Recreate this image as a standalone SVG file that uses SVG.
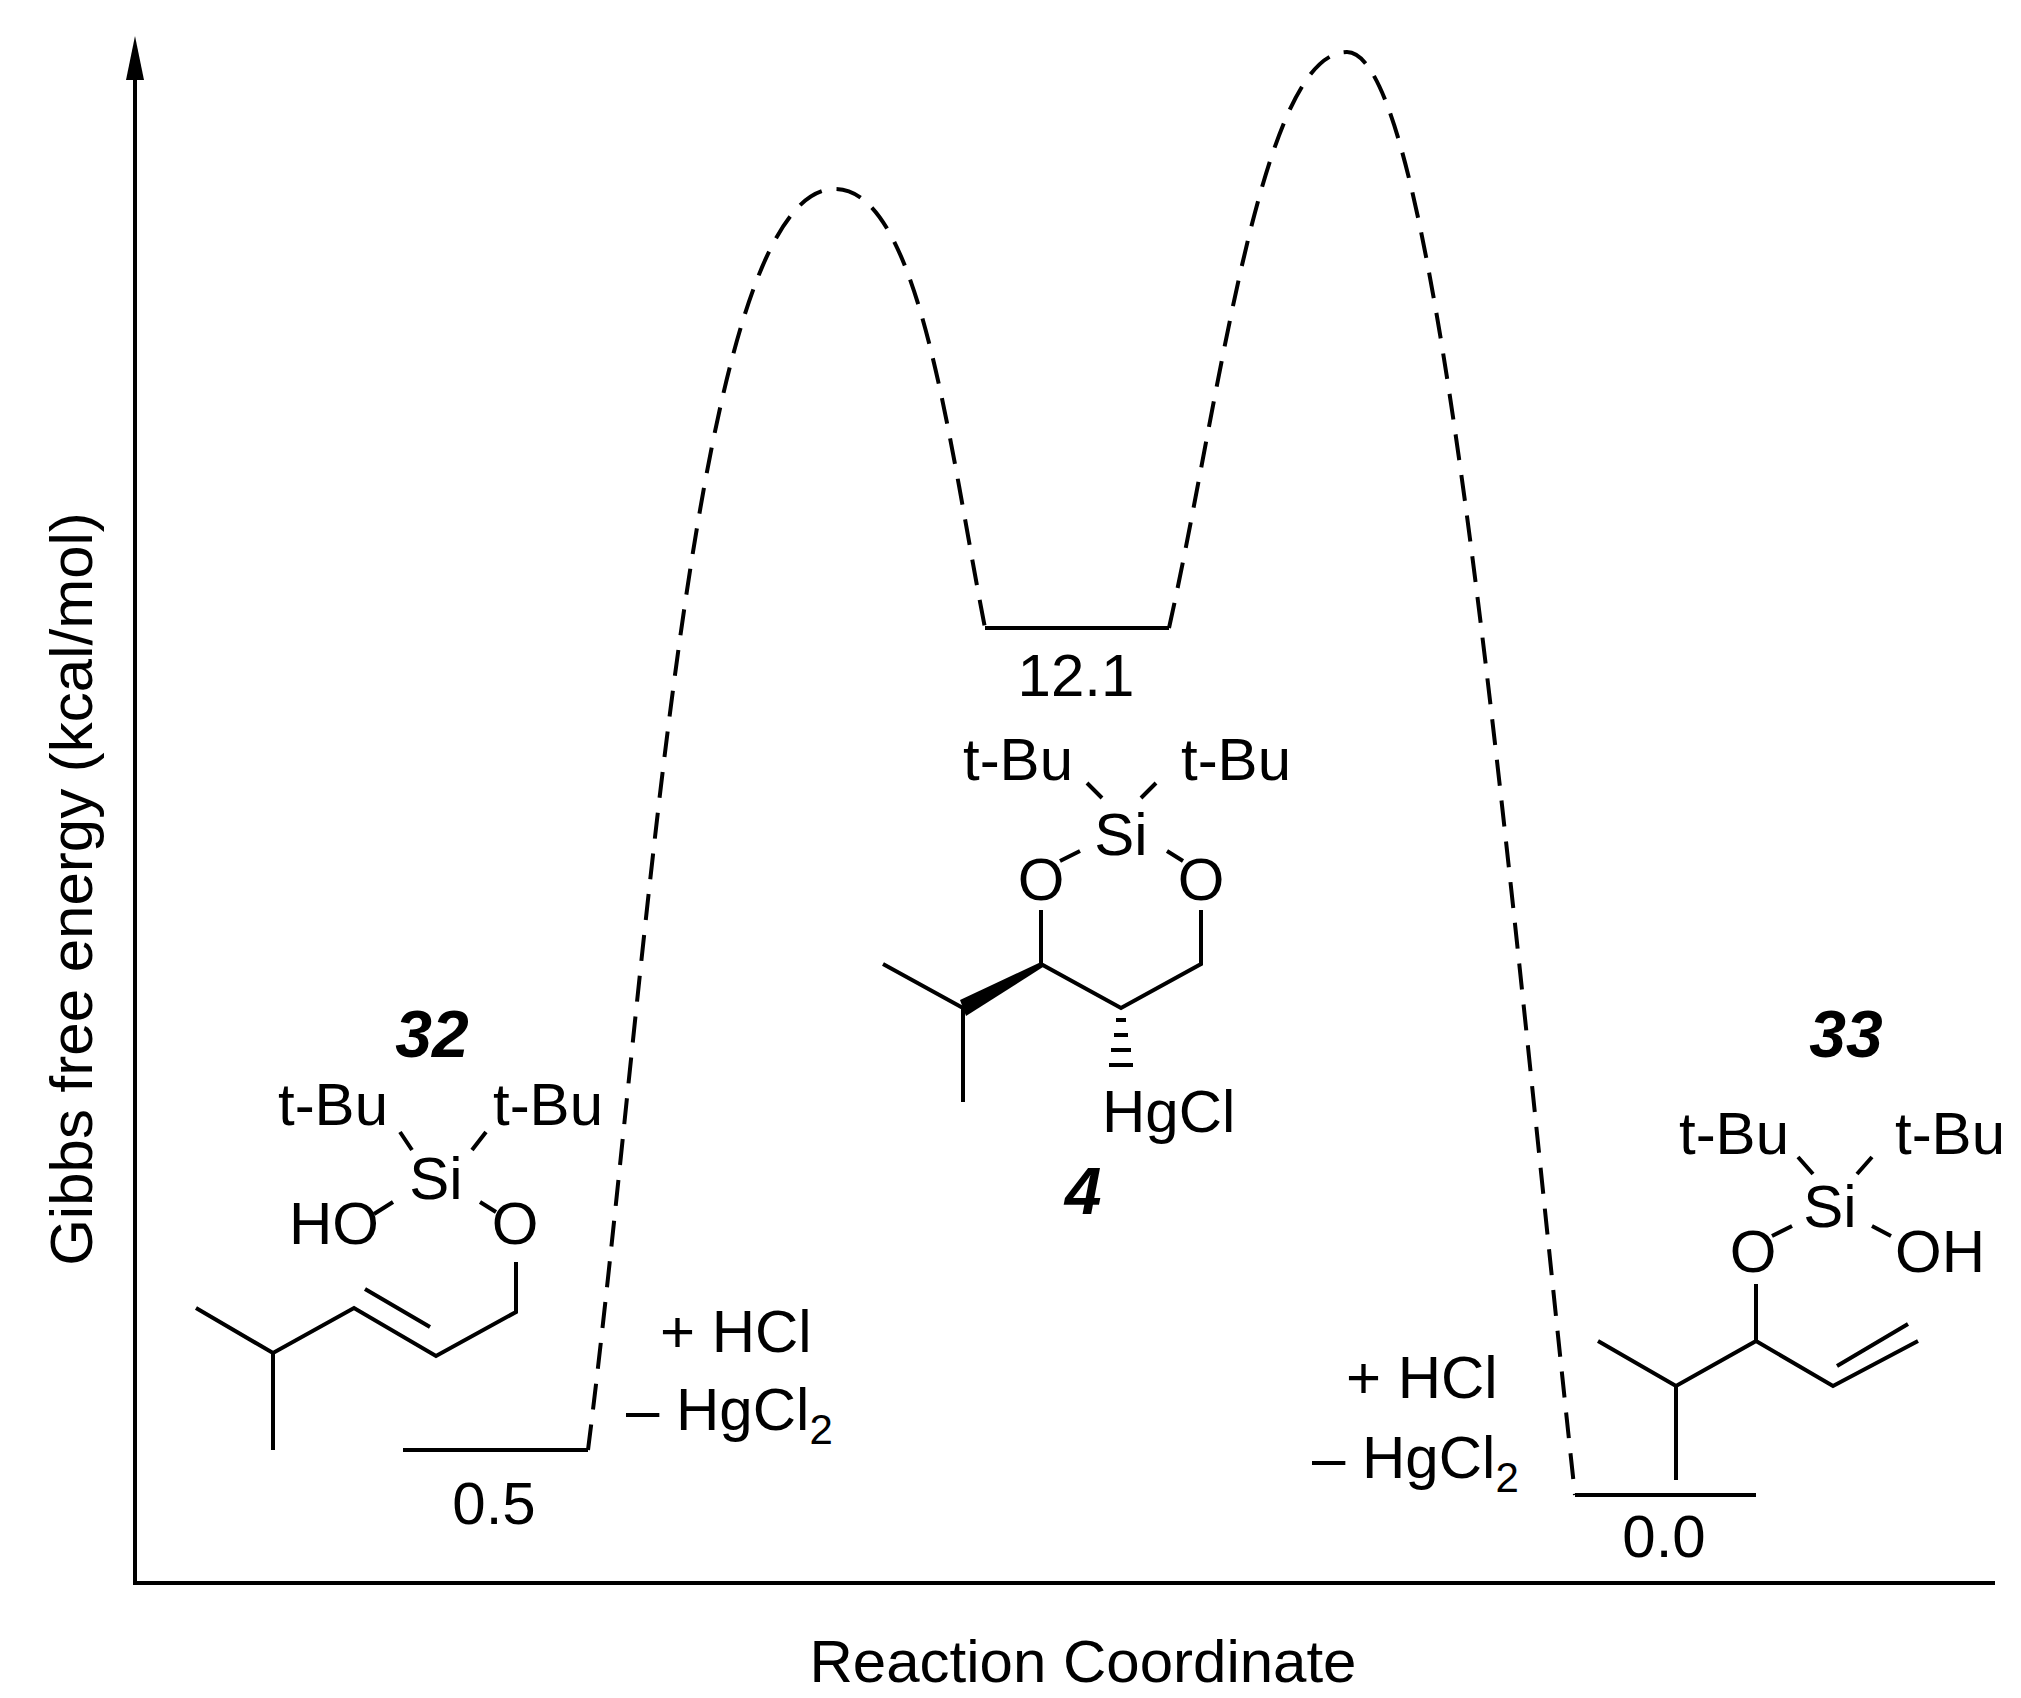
<svg xmlns="http://www.w3.org/2000/svg" width="2021" height="1698" viewBox="0 0 2021 1698">
<style>
text{font-family:"Liberation Sans",Arial,sans-serif;font-size:60px;fill:#000}
.c{text-anchor:middle}
.b{font-weight:bold;font-style:italic;font-size:66px}
.l{stroke:#000;stroke-width:4;fill:none;stroke-linecap:butt}
.d{stroke:#000;stroke-width:4;fill:none;stroke-dasharray:26 15}
</style>
<rect width="2021" height="1698" fill="#fff"/>
<g id="axes">
<path class="l" d="M135 72V1583H1995"/>
<polygon points="135,36 126,80 144,80" fill="#000"/>
<text class="c" x="1083" y="1682" font-size="62">Reaction Coordinate</text>
<text class="c" transform="translate(92,889) rotate(-90)" font-size="60">Gibbs free energy (kcal/mol)</text>
</g>
<g id="connectors">
<path class="d" d="M588 1450C650 960 690 189 835 189C920 189 950 450 985 628"/>
<path class="d" d="M1169 628C1220 400 1260 52 1347 52C1440 52 1510 900 1575 1495"/>
</g>
<g id="level1"><path class="l" d="M403 1450H588"/><text class="c" x="494" y="1524">0.5</text></g>
<g id="level2"><path class="l" d="M985 628H1169"/><text class="c" x="1076" y="696">12.1</text></g>
<g id="level3"><path class="l" d="M1575 1495H1756"/><text class="c" x="1664" y="1557">0.0</text></g>
<g id="reag1"><text x="660" y="1352">+ HCl</text><text x="626" y="1430">– HgCl<tspan font-size="42" dy="14">2</tspan></text></g>
<g id="reag2"><text x="1346" y="1398">+ HCl</text><text x="1312" y="1478">– HgCl<tspan font-size="42" dy="14">2</tspan></text></g>
<g id="mol32">
<text class="c b" x="432" y="1057">32</text>
<text class="c" x="333" y="1125">t-Bu</text>
<text class="c" x="548" y="1125">t-Bu</text>
<text class="c" x="436" y="1199">Si</text>
<text class="c" x="334" y="1244">HO</text>
<text class="c" x="515" y="1244">O</text>
<path class="l" d="M400 1132L412 1150M472 1150L486 1132M374 1214L393 1202M480 1202L496 1212M516 1262V1312L436 1356L354 1308L273 1353L196 1308M273 1353V1450M365 1289L430 1327"/>
</g>
<g id="mol4">
<text class="c" x="1018" y="780">t-Bu</text>
<text class="c" x="1236" y="780">t-Bu</text>
<text class="c" x="1121" y="855">Si</text>
<text class="c" x="1041" y="900">O</text>
<text class="c" x="1201" y="900">O</text>
<path class="l" d="M1087 783L1102 798M1141 798L1156 783M1060 861L1080 851M1167 851L1183 861M1041 910V964L1121 1008L1201 964V910M963 1008L883 964M963 1008V1102"/>
<polygon points="1041,962 1043,967 966,1016 960,1000" fill="#000"/>
<path class="l" d="M1116 1020H1126M1114 1035H1128M1111 1050H1131M1109 1065H1133"/>
<text x="1102" y="1132">HgCl</text>
<text class="c b" x="1083" y="1214">4</text>
</g>
<g id="mol33">
<text class="c b" x="1846" y="1057">33</text>
<text class="c" x="1734" y="1154">t-Bu</text>
<text class="c" x="1950" y="1154">t-Bu</text>
<text class="c" x="1830" y="1227">Si</text>
<text class="c" x="1753" y="1272">O</text>
<text class="c" x="1940" y="1272">OH</text>
<path class="l" d="M1798 1157L1813 1174M1857 1174L1872 1157M1772 1236L1792 1226M1872 1226L1891 1236M1756 1284V1341L1676 1386L1598 1341M1676 1386V1480M1756 1341L1833 1386L1918 1341M1837 1366L1908 1324"/>
</g>
</svg>
